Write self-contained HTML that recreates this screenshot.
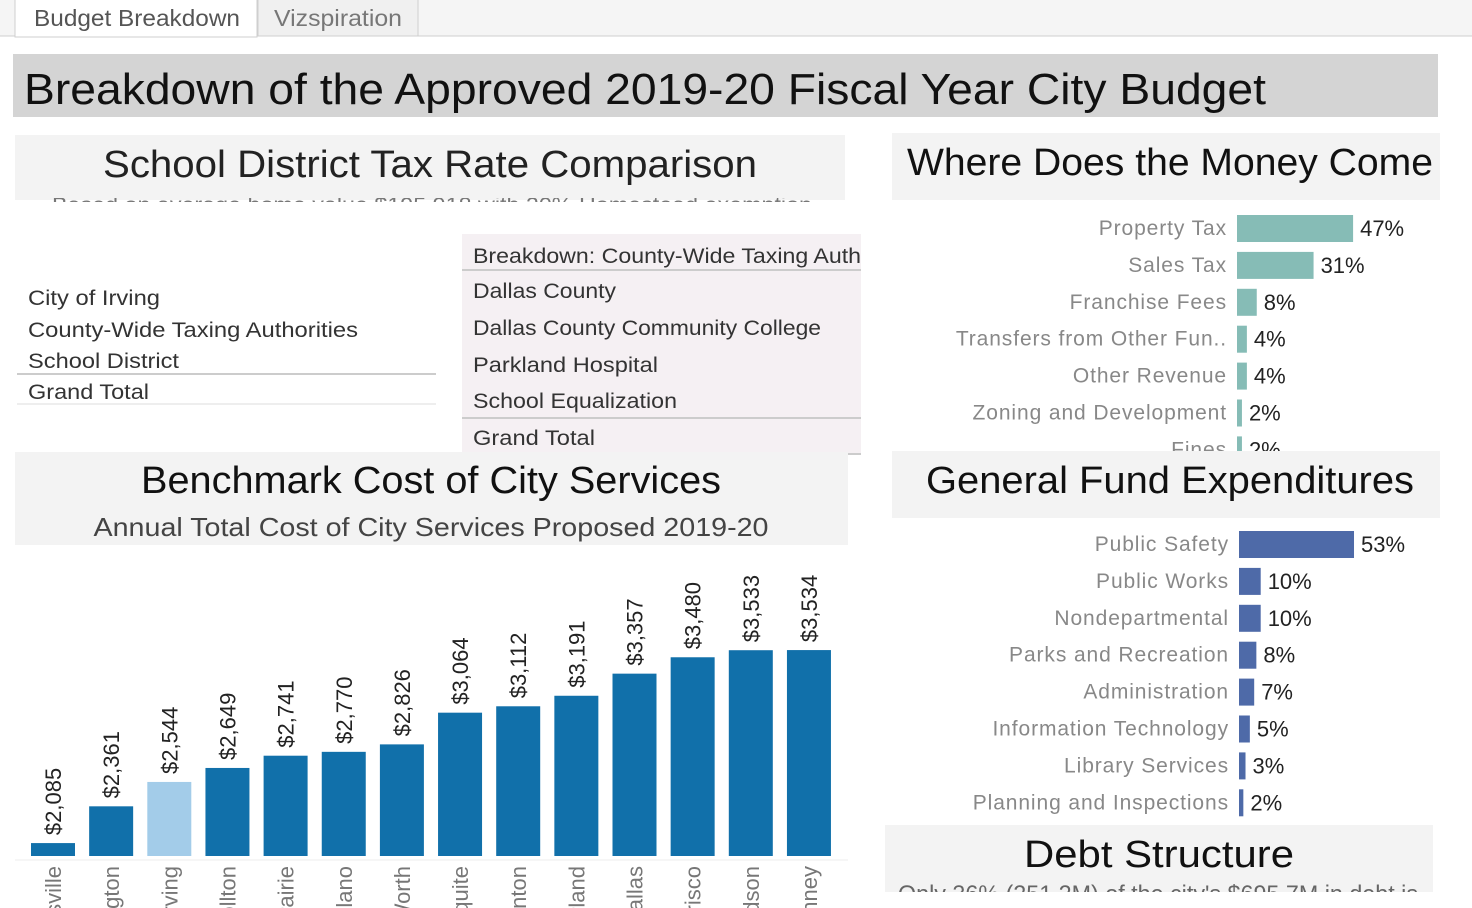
<!DOCTYPE html>
<html><head><meta charset="utf-8"><style>
html,body{margin:0;padding:0;background:#fff;overflow:hidden;width:1472px;height:908px}
svg{display:block;font-family:"Liberation Sans",sans-serif}
</style></head><body>
<svg id="root" width="1472" height="908" viewBox="0 0 1472 908">
<defs>
<clipPath id="c1"><rect x="15" y="198" width="830" height="4"/></clipPath>
<clipPath id="c2"><rect x="885" y="884" width="548" height="8"/></clipPath>
<clipPath id="page"><rect x="0" y="0" width="1472" height="908"/></clipPath>
</defs>
<g clip-path="url(#page)">
<g>
<rect x="0" y="0" width="1472" height="36" fill="#f5f5f5"/>
<line x1="0" y1="36" x2="1472" y2="36" stroke="#cfcfcf"/>
<rect x="15" y="-1" width="242" height="38" fill="#fff" stroke="#cfcfcf"/>
<text x="34" y="26" font-size="23" fill="#555" textLength="206" lengthAdjust="spacingAndGlyphs">Budget Breakdown</text>
<rect x="258" y="-1" width="160" height="37" fill="#f0f0f0" stroke="#cfcfcf"/>
<text x="274" y="26" font-size="23" fill="#777" textLength="128" lengthAdjust="spacingAndGlyphs">Vizspiration</text>
</g>
<g>
<rect x="13" y="54" width="1425" height="63" fill="#d4d4d4"/>
<text x="24" y="104" font-size="44" fill="#111" textLength="1242" lengthAdjust="spacingAndGlyphs">Breakdown of the Approved 2019-20 Fiscal Year City Budget</text>
</g>
<g>
<rect x="15" y="135" width="830" height="65" fill="#f3f3f3"/>
<text x="430" y="177" font-size="38" fill="#222" text-anchor="middle" textLength="654" lengthAdjust="spacingAndGlyphs">School District Tax Rate Comparison</text>
<text x="52" y="212" font-size="21" fill="#777" clip-path="url(#c1)" textLength="760" lengthAdjust="spacingAndGlyphs">Based on average home value $195,918 with 20% Homestead exemption</text>
<g font-size="21" fill="#333">
<text x="28" y="305" textLength="132" lengthAdjust="spacingAndGlyphs">City of Irving</text>
<text x="28" y="337" textLength="330" lengthAdjust="spacingAndGlyphs">County-Wide Taxing Authorities</text>
<text x="28" y="368" textLength="151" lengthAdjust="spacingAndGlyphs">School District</text>
<line x1="17" y1="374" x2="436" y2="374" stroke="#ccc" stroke-width="2"/>
<text x="28" y="399" textLength="121" lengthAdjust="spacingAndGlyphs">Grand Total</text>
<line x1="17" y1="404" x2="436" y2="404" stroke="#ddd"/>
</g>
<g>
<rect x="462" y="234" width="399" height="220" fill="#f5f0f3"/>
<g font-size="21" fill="#333">
<text x="473" y="263" textLength="388" lengthAdjust="spacingAndGlyphs">Breakdown: County-Wide Taxing Auth</text>
<line x1="462" y1="270" x2="861" y2="270" stroke="#ccc" stroke-width="2"/>
<text x="473" y="298" textLength="143" lengthAdjust="spacingAndGlyphs">Dallas County</text>
<text x="473" y="335" textLength="348" lengthAdjust="spacingAndGlyphs">Dallas County Community College</text>
<text x="473" y="372" textLength="185" lengthAdjust="spacingAndGlyphs">Parkland Hospital</text>
<text x="473" y="408" textLength="204" lengthAdjust="spacingAndGlyphs">School Equalization</text>
<line x1="462" y1="418" x2="861" y2="418" stroke="#ccc" stroke-width="2"/>
<text x="473" y="445" textLength="122" lengthAdjust="spacingAndGlyphs">Grand Total</text>
<line x1="462" y1="454" x2="861" y2="454" stroke="#ccc" stroke-width="2"/>
</g></g>
</g>
<g>
<rect x="15" y="452" width="833" height="93" fill="#f3f3f3"/>
<text x="431" y="493" font-size="38" fill="#111" text-anchor="middle" textLength="580" lengthAdjust="spacingAndGlyphs">Benchmark Cost of City Services</text>
<text x="431" y="536" font-size="26" fill="#444" text-anchor="middle" textLength="675" lengthAdjust="spacingAndGlyphs">Annual Total Cost of City Services Proposed 2019-20</text>
</g>
<g id="bench"></g>
<g>
<rect x="892" y="133" width="548" height="67" fill="#f3f3f3"/>
<text x="1170" y="175" font-size="38" fill="#111" text-anchor="middle" textLength="526" lengthAdjust="spacingAndGlyphs">Where Does the Money Come</text>
</g>
<g id="rev"></g>
<g id="exp"></g>
<g>
<rect x="892" y="451" width="548" height="67" fill="#f3f3f3"/>
<text x="1170" y="493" font-size="38" fill="#111" text-anchor="middle" textLength="488" lengthAdjust="spacingAndGlyphs">General Fund Expenditures</text>
</g>
<g>
<rect x="885" y="825" width="548" height="67" fill="#f3f3f3"/>
<text x="1159" y="867" font-size="38" fill="#111" text-anchor="middle" textLength="270" lengthAdjust="spacingAndGlyphs">Debt Structure</text>
<text x="898" y="902" font-size="24" fill="#666" clip-path="url(#c2)" textLength="520" lengthAdjust="spacingAndGlyphs">Only 36% (251.2M) of the city's $695.7M in debt is</text>
</g>
</g>
</svg>
<script>
const cities=["Lewisville","Arlington","Irving","Carrollton","Grand Prairie","Plano","Fort Worth","Mesquite","Denton","Garland","Dallas","Frisco","Richardson","McKinney"];
const costs=[2085,2361,2544,2649,2741,2770,2826,3064,3112,3191,3357,3480,3533,3534];
const highlight="Irving";
const revCats=["Property Tax","Sales Tax","Franchise Fees","Transfers from Other Fun..","Other Revenue","Zoning and Development","Fines"];
const revPct=[47,31,8,4,4,2,2];
const expCats=["Public Safety","Public Works","Nondepartmental","Parks and Recreation","Administration","Information Technology","Library Services","Planning and Inspections"];
const expPct=[53,10,10,8,7,5,3,2];
const NS="http://www.w3.org/2000/svg";
function mk(p,t,a){const e=document.createElementNS(NS,t);for(const k in a)e.setAttribute(k,a[k]);p.appendChild(e);return e;}
const bench=document.getElementById('bench');
const base=856,yMin=1988,ppu=0.1332,x0=31,pitch=58.15,bw=44;
const yS=v=>base-(v-yMin)*ppu;
mk(bench,'line',{x1:15,y1:860,x2:848,y2:860,stroke:'#eee'});
cities.forEach((c,i)=>{
 const x=x0+i*pitch,y=yS(costs[i]);
 const r=mk(bench,'rect',{x:x,y:y,width:bw,height:base-y,fill:c===highlight?'#a3cce9':'#1170aa'});
 
 
 const cx=x+bw/2+8;
 const t=mk(bench,'text',{x:0,y:0,transform:`translate(${cx},${y-8}) rotate(-90)`,'font-size':22,fill:'#222'});
 t.textContent='$'+costs[i].toLocaleString('en-US');
 
 
 const l=mk(bench,'text',{x:0,y:0,transform:`translate(${cx},866) rotate(-90)`,'font-size':22,fill:'#777','text-anchor':'end'});
 l.textContent=c;
 
 
});
function hbar(gid,cats,vals,y0,bx,ppp,col){
 const g=document.getElementById(gid);
 cats.forEach((c,i)=>{
  const yc=y0+i*36.9;
  const lab=mk(g,'text',{x:bx-10,y:yc+7,'font-size':21,fill:'#888','text-anchor':'end','letter-spacing':'0.9'});
  lab.textContent=c;
  
  
  const w=vals[i]*ppp;
  const r=mk(g,'rect',{x:bx,y:yc-13,width:w,height:27,fill:col});
  
  
  const v=mk(g,'text',{x:bx+w+7,y:yc+8,'font-size':22,fill:'#222'});
  v.textContent=vals[i]+'%';
  
  
 });
}
hbar('rev',revCats,revPct,228,1237,2.47,'#86bcb6');
hbar('exp',expCats,expPct,544,1239,2.17,'#4e6aa8');
</script>
</body></html>
